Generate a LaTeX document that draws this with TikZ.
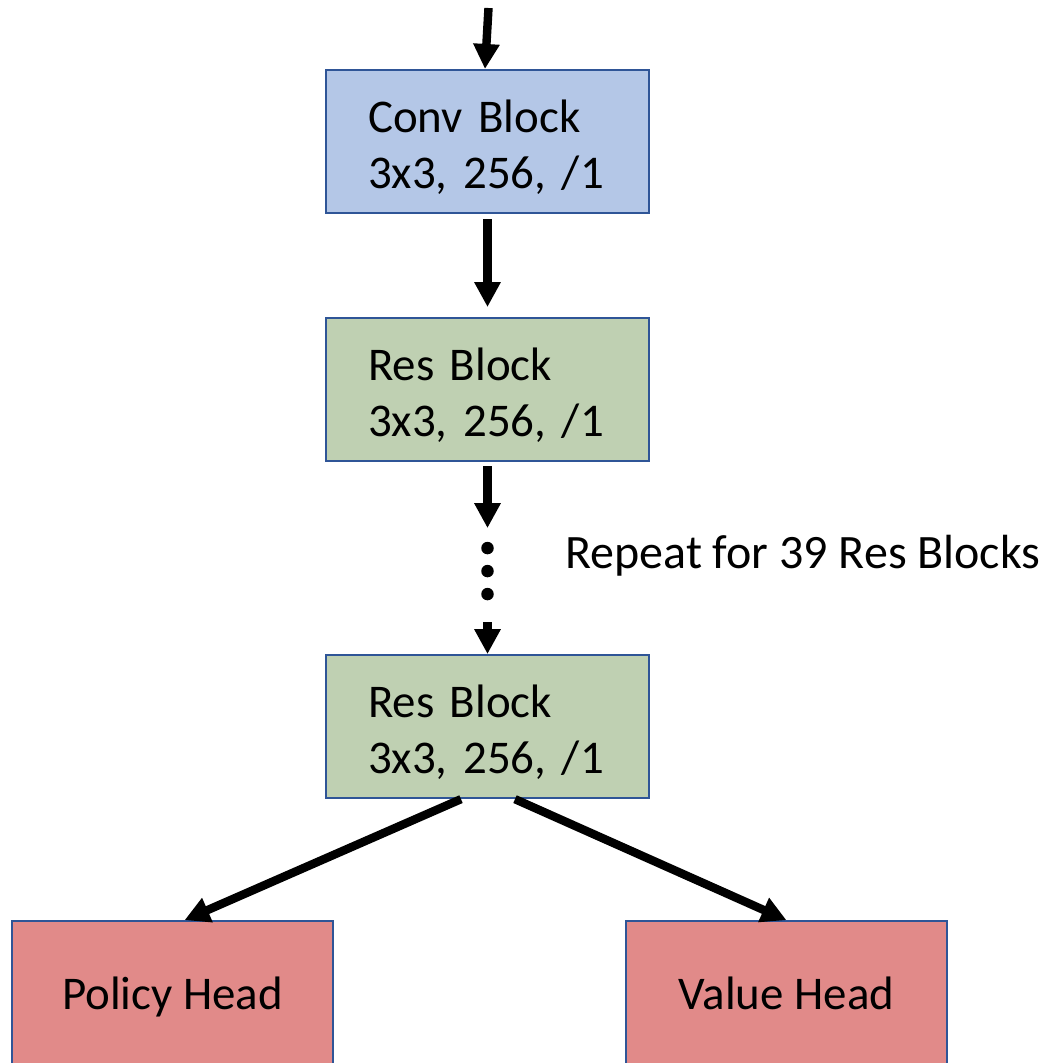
\documentclass[tikz,border=0pt]{standalone}
\usepackage{fontspec}
\setmainfont{Carlito}
\usetikzlibrary{positioning,arrows.meta}
\definecolor{convblue}{RGB}{180,199,231}
\definecolor{resgreen}{RGB}{191,208,178}
\definecolor{headred}{RGB}{225,138,137}
\definecolor{edgeblue}{RGB}{47,85,151}
\tikzset{
  blk/.style={rectangle, draw=edgeblue, line width=1.2pt, text width=4.78cm, text height=0.88cm, inner xsep=0.84cm, inner ysep=0pt, minimum height=2.86cm, align=left, font=\fontsize{26.7}{31.9}\selectfont},
  cb/.style={blk, fill=convblue},
  rb/.style={blk, fill=resgreen},
  hd/.style={rectangle, draw=edgeblue, line width=1.2pt, minimum width=6.42cm, minimum height=2.86cm, text height=0.76cm, text depth=0.1cm, align=center, fill=headred, font=\fontsize{26.7}{31.9}\selectfont},
  flow/.style={line width=4.8pt, -{Triangle[length=0.5cm,width=0.5cm]}},
  dots/.style={line width=0.25cm, line cap=round, dash pattern=on 0pt off 0.46cm},
  node distance=2.06cm
}

\begin{document}
\begin{tikzpicture}[x=0.02cm, y=-0.02cm]
	\useasboundingbox (0,0) rectangle (1044,1063);
	\node[cb] (conv) at (487.5,141.5) {Conv Block\\3x3, 256, /1};
	\node[rb, below=of conv] (res1) {Res Block\\3x3, 256, /1};
	\node[rb, below=3.84cm of res1] (res2) {Res Block\\3x3, 256, /1};
	\node[hd, below=2.42cm of res2, xshift=-6.3cm] (policy) {Policy Head};
	\node[hd, below=2.42cm of res2, xshift=5.98cm] (value) {Value Head};
	\node[anchor=base west, inner sep=0pt, font=\fontsize{27.3}{31.9}\selectfont] (repeat) at (565,568) {Repeat for 39 Res Blocks};
	%
	\coordinate (in) at (488.5,8);
	\coordinate[below=1.32cm of res1] (dtop);
	\coordinate[below=0.4cm of dtop] (dot1);
	\coordinate[below=0.93cm of dot1] (dot2);
	\coordinate[above=0.64cm of res2] (dbot);
	%
	\draw[flow] (in) -- ([xshift=-0.05cm]conv.north);
	\draw[flow, shorten <=0.1cm, shorten >=0.2cm] (conv) -- (res1);
	\draw[flow, shorten <=0.08cm] (res1) -- (dtop);
	\draw[dots] (dot1) -- (dot2);
	\draw[flow] (dbot) -- (res2);
	\draw[flow] ([xshift=-0.53cm]res2.south) -- ([xshift=0.24cm]policy.north);
	\draw[flow] ([xshift=0.55cm]res2.south) -- (value.north);
\end{tikzpicture}
\end{document}
